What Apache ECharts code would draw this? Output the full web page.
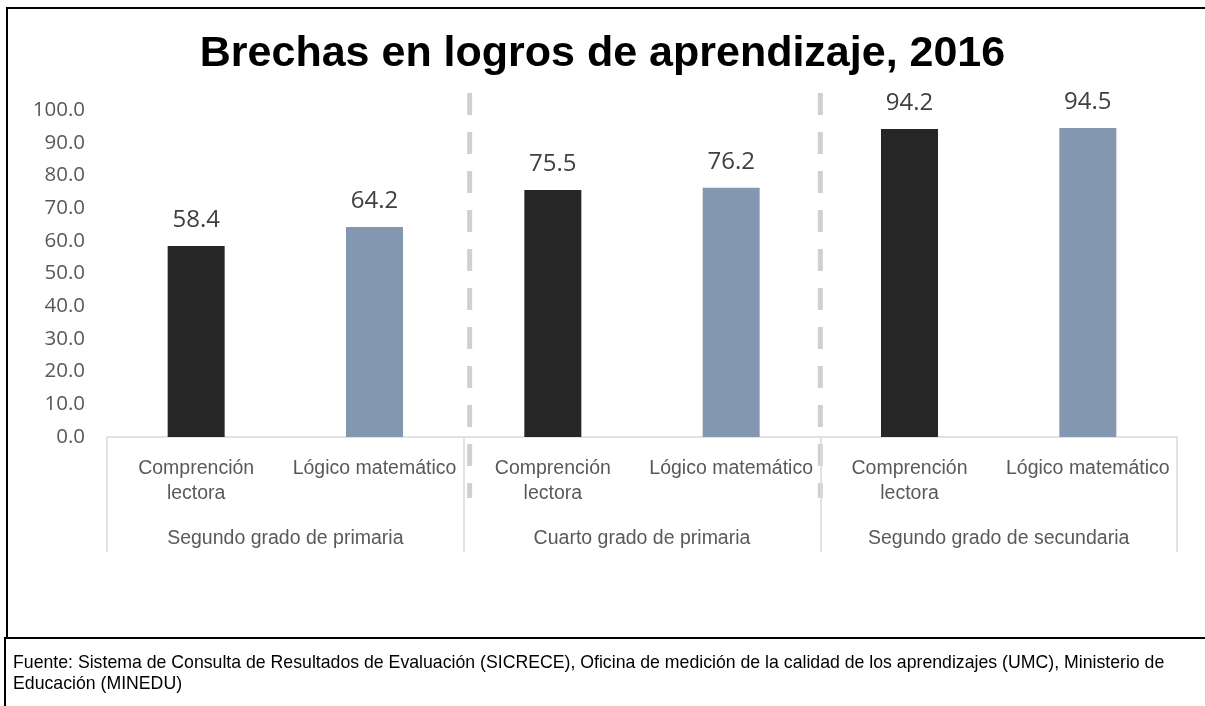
<!DOCTYPE html>
<html>
<head>
<meta charset="utf-8">
<script src="https://cdn.jsdelivr.net/npm/echarts@6/dist/echarts.min.js"></script>
<style>
html,body{margin:0;padding:0;background:#fff;}
#chart{width:1205px;height:706px;}
</style>
</head>
<body>
<div id="chart"></div>
<script>
const titleText = 'Brechas en logros de aprendizaje, 2016';
const categories = ['Comprención\nlectora', 'Lógico matemático', 'Comprención\nlectora', 'Lógico matemático', 'Comprención\nlectora', 'Lógico matemático'];
const groups = ['Segundo grado de primaria', 'Cuarto grado de primaria', 'Segundo grado de secundaria'];
const values = [58.4, 64.2, 75.5, 76.2, 94.2, 94.5];
const barColors = ['#262626', '#8497B0', '#262626', '#8497B0', '#262626', '#8497B0'];
const yTicks = [0, 10, 20, 30, 40, 50, 60, 70, 80, 90, 100];
const footerLines = ['Fuente: Sistema de Consulta de Resultados de Evaluación (SICRECE), Oficina de medición de la calidad de los aprendizajes (UMC), Ministerio de', 'Educación (MINEDU)'];

const narrow = '"Liberation Sans Narrow", "Arial Narrow", "Liberation Sans", Arial, sans-serif';
const chart = echarts.init(document.getElementById('chart'));

const option = {
  animation: false,
  backgroundColor: '#fff',
  title: {
    text: titleText,
    left: 'center',
    top: 28,
    textStyle: {fontFamily: '"Liberation Sans", Arial, sans-serif', fontWeight: 'bold', fontSize: 43, color: '#000'}
  },
  grid: {left: 107, right: 28, top: 110, bottom: 269, containLabel: false},
  xAxis: [
    {
      type: 'category',
      data: categories,
      position: 'bottom',
      axisLine: {show: false},
      axisTick: {show: false},
      axisLabel: {interval: 0, margin: 19, color: '#595959', fontFamily: narrow, fontSize: 19.5, lineHeight: 25}
    },
    {
      type: 'category',
      data: groups,
      position: 'bottom',
      axisLine: {show: true, lineStyle: {color: '#D9D9D9', width: 1.5}},
      axisTick: {show: true, length: 115, lineStyle: {color: '#D9D9D9', width: 1.5}},
      axisLabel: {interval: 0, margin: 92, color: '#595959', fontFamily: narrow, fontSize: 19.5}
    }
  ],
  yAxis: {
    type: 'value',
    min: 0,
    max: 100,
    interval: 10,
    axisLine: {show: false},
    axisTick: {show: false},
    splitLine: {show: false},
    axisLabel: {
      margin: 22,
      color: '#595959',
      fontFamily: '"Open Sans", sans-serif',
      fontSize: 20.5,
      formatter: v => (yTicks.indexOf(v) >= 0 ? v.toFixed(1) : '')
    }
  },
  series: [{
    type: 'bar',
    xAxisIndex: 0,
    barWidth: 57,
    data: values.map((v, i) => ({value: v, itemStyle: {color: barColors[i]}})),
    label: {
      show: true,
      position: 'top',
      distance: 14,
      color: '#404040',
      fontFamily: '"Open Sans", sans-serif',
      fontSize: 24,
      formatter: p => p.value.toFixed(1)
    }
  }]
};
chart.setOption(option);

// Decorations: frame, dashed separators, footer
const c1 = chart.convertToPixel({xAxisIndex: 0}, 1);
const c2 = chart.convertToPixel({xAxisIndex: 0}, 2);
const c3 = chart.convertToPixel({xAxisIndex: 0}, 3);
const c4 = chart.convertToPixel({xAxisIndex: 0}, 4);
const b1 = (c1 + c2) / 2 + 6;
const b2 = (c3 + c4) / 2;
const dashStyle = {stroke: '#D0D0D0', lineWidth: 5, lineDash: [22, 17]};

chart.setOption({
  graphic: [
    {type: 'line', shape: {x1: 7, y1: 8, x2: 1205, y2: 8}, style: {stroke: '#000', lineWidth: 2}, silent: true},
    {type: 'line', shape: {x1: 7, y1: 7, x2: 7, y2: 638}, style: {stroke: '#000', lineWidth: 2}, silent: true},
    {type: 'line', shape: {x1: 4, y1: 638, x2: 1205, y2: 638}, style: {stroke: '#000', lineWidth: 2}, silent: true},
    {type: 'line', shape: {x1: 5, y1: 638, x2: 5, y2: 706}, style: {stroke: '#000', lineWidth: 2}, silent: true},
    {type: 'line', shape: {x1: b1, y1: 93, x2: b1, y2: 498}, style: dashStyle, silent: true},
    {type: 'line', shape: {x1: b2, y1: 93, x2: b2, y2: 498}, style: dashStyle, silent: true},
    {type: 'text', left: 13, top: 653, style: {text: footerLines.join('\n'), fontFamily: narrow, fontSize: 17.7, lineHeight: 21, fill: '#000'}, silent: true}
  ]
});
</script>
</body>
</html>
